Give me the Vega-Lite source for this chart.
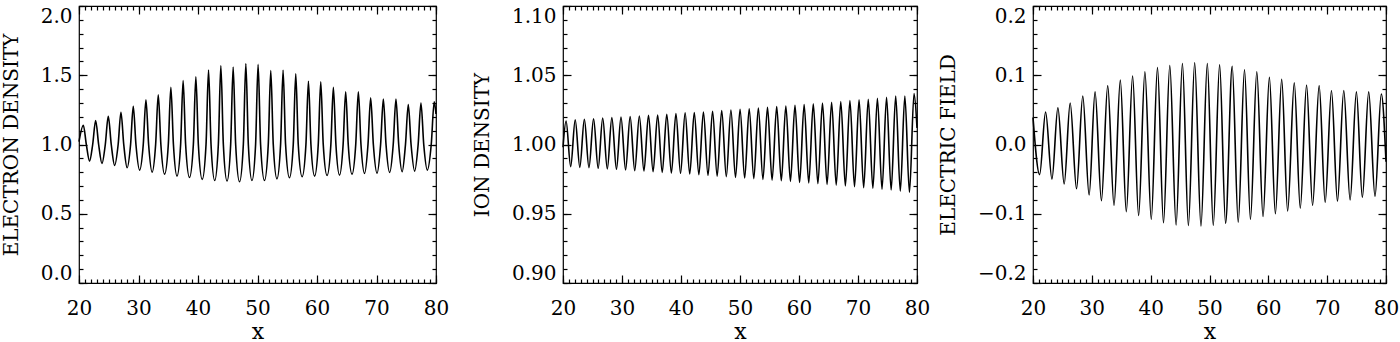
{
  "$schema": "https://vega.github.io/schema/vega-lite/v6.json",
  "padding": {"left": 0, "top": 4, "right": 0, "bottom": 0},
  "background": "white",
  "config": {
    "view": {"stroke": "black", "strokeWidth": 1.2},
    "axis": {"domain": false, "grid": false, "tickColor": "black", "tickWidth": 1.2, "labelColor": "black", "titleColor": "black", "labelFont": "DejaVu Serif", "titleFont": "DejaVu Serif", "labelFontSize": 20, "titleFontSize": 20, "titleFontWeight": "normal"},
    "line": {"color": "black", "strokeWidth": 1.6, "interpolate": "monotone"}
  },
  "datasets": {
    "ne": [
      {"x":20,"y":1.02},{"x":20.73,"y":1.139},{"x":21.23,"y":1.0},{"x":21.77,"y":0.88},{"x":22.3,"y":1.0},{"x":22.8,"y":1.173},{"x":23.3,"y":1.0},{"x":23.86,"y":0.863},{"x":24.42,"y":1.0},{"x":24.92,"y":1.204},{"x":25.42,"y":1.0},{"x":25.99,"y":0.849},{"x":26.58,"y":1.0},{"x":27.05,"y":1.233},{"x":27.52,"y":1.0},{"x":28.09,"y":0.832},{"x":28.67,"y":1.0},{"x":29.12,"y":1.276},{"x":29.57,"y":1.0},{"x":30.19,"y":0.815},{"x":30.8,"y":1.0},{"x":31.25,"y":1.322},{"x":31.7,"y":1.0},{"x":32.29,"y":0.8},{"x":32.88,"y":1.0},{"x":33.32,"y":1.358},{"x":33.76,"y":1.0},{"x":34.38,"y":0.786},{"x":35.01,"y":1.0},{"x":35.44,"y":1.413},{"x":35.87,"y":1.0},{"x":36.47,"y":0.772},{"x":37.08,"y":1.0},{"x":37.5,"y":1.462},{"x":37.92,"y":1.0},{"x":38.57,"y":0.762},{"x":39.22,"y":1.0},{"x":39.64,"y":1.488},{"x":40.06,"y":1.0},{"x":40.71,"y":0.748},{"x":41.35,"y":1.0},{"x":41.77,"y":1.538},{"x":42.19,"y":1.0},{"x":42.81,"y":0.74},{"x":43.42,"y":1.0},{"x":43.84,"y":1.57},{"x":44.26,"y":1.0},{"x":44.88,"y":0.736},{"x":45.49,"y":1.0},{"x":45.91,"y":1.56},{"x":46.33,"y":1.0},{"x":46.98,"y":0.731},{"x":47.62,"y":1.0},{"x":48.04,"y":1.584},{"x":48.46,"y":1.0},{"x":49.07,"y":0.74},{"x":49.68,"y":1.0},{"x":50.1,"y":1.579},{"x":50.52,"y":1.0},{"x":51.17,"y":0.74},{"x":51.81,"y":1.0},{"x":52.23,"y":1.534},{"x":52.65,"y":1.0},{"x":53.27,"y":0.752},{"x":53.88,"y":1.0},{"x":54.3,"y":1.536},{"x":54.72,"y":1.0},{"x":55.37,"y":0.76},{"x":56.01,"y":1.0},{"x":56.43,"y":1.51},{"x":56.85,"y":1.0},{"x":57.5,"y":0.767},{"x":58.14,"y":1.0},{"x":58.56,"y":1.457},{"x":58.98,"y":1.0},{"x":59.6,"y":0.772},{"x":60.21,"y":1.0},{"x":60.63,"y":1.452},{"x":61.05,"y":1.0},{"x":61.69,"y":0.776},{"x":62.33,"y":1.0},{"x":62.75,"y":1.413},{"x":63.18,"y":1.0},{"x":63.79,"y":0.779},{"x":64.39,"y":1.0},{"x":64.82,"y":1.38},{"x":65.25,"y":1.0},{"x":65.89,"y":0.786},{"x":66.51,"y":1.0},{"x":66.95,"y":1.38},{"x":67.39,"y":1.0},{"x":67.99,"y":0.791},{"x":68.57,"y":1.0},{"x":69.02,"y":1.337},{"x":69.47,"y":1.0},{"x":70.09,"y":0.793},{"x":70.69,"y":1.0},{"x":71.15,"y":1.329},{"x":71.6,"y":1.0},{"x":72.21,"y":0.798},{"x":72.81,"y":1.0},{"x":73.27,"y":1.329},{"x":73.73,"y":1.0},{"x":74.31,"y":0.803},{"x":74.87,"y":1.0},{"x":75.34,"y":1.288},{"x":75.81,"y":1.0},{"x":76.41,"y":0.808},{"x":77.0,"y":1.0},{"x":77.47,"y":1.3},{"x":77.94,"y":1.0},{"x":78.54,"y":0.815},{"x":79.2,"y":1.0},{"x":79.7,"y":1.308},{"x":80,"y":1.22}
    ],
    "ni": [
      {"x":20,"y":0.998},
      {"x":20.52,"y":1.017},{"x":21.3,"y":0.984},{"x":22.07,"y":1.0179},{"x":22.85,"y":0.9835},{"x":23.62,"y":1.0182},{"x":24.4,"y":0.9833},{"x":25.18,"y":1.0186},{"x":25.96,"y":0.9828},{"x":26.73,"y":1.0191},{"x":27.51,"y":0.9823},{"x":28.28,"y":1.0194},{"x":29.06,"y":0.9821},{"x":29.83,"y":1.0199},{"x":30.61,"y":0.9816},{"x":31.38,"y":1.0201},{"x":32.16,"y":0.9811},{"x":32.94,"y":1.0206},{"x":33.72,"y":0.9809},{"x":34.49,"y":1.0211},{"x":35.27,"y":0.9804},{"x":36.04,"y":1.0213},{"x":36.82,"y":0.9799},{"x":37.59,"y":1.0218},{"x":38.37,"y":0.9794},{"x":39.14,"y":1.0223},{"x":39.92,"y":0.9792},{"x":40.7,"y":1.0228},{"x":41.48,"y":0.9787},{"x":42.25,"y":1.023},{"x":43.03,"y":0.9782},{"x":43.8,"y":1.0235},{"x":44.58,"y":0.9777},{"x":45.35,"y":1.024},{"x":46.13,"y":0.9772},{"x":46.9,"y":1.0245},{"x":47.68,"y":0.9768},{"x":48.46,"y":1.0249},{"x":49.24,"y":0.9763},{"x":50.01,"y":1.0254},{"x":50.79,"y":0.9758},{"x":51.56,"y":1.0257},{"x":52.34,"y":0.9753},{"x":53.11,"y":1.0264},{"x":53.89,"y":0.9748},{"x":54.66,"y":1.0269},{"x":55.44,"y":0.9743},{"x":56.22,"y":1.0274},{"x":57.0,"y":0.9738},{"x":57.77,"y":1.0278},{"x":58.55,"y":0.9734},{"x":59.32,"y":1.0283},{"x":60.1,"y":0.9726},{"x":60.87,"y":1.0288},{"x":61.65,"y":0.9722},{"x":62.42,"y":1.0293},{"x":63.2,"y":0.9717},{"x":63.98,"y":1.03},{"x":64.76,"y":0.9712},{"x":65.53,"y":1.0305},{"x":66.31,"y":0.9707},{"x":67.08,"y":1.031},{"x":67.86,"y":0.97},{"x":68.63,"y":1.0317},{"x":69.41,"y":0.9695},{"x":70.18,"y":1.0322},{"x":70.96,"y":0.9688},{"x":71.74,"y":1.0327},{"x":72.52,"y":0.9683},{"x":73.29,"y":1.0334},{"x":74.07,"y":0.9676},{"x":74.84,"y":1.0341},{"x":75.62,"y":0.9671},{"x":76.39,"y":1.0349},{"x":77.17,"y":0.9663},{"x":77.94,"y":1.0349},{"x":78.72,"y":0.9654},{"x":79.5,"y":1.0368},
      {"x":80,"y":1.012}
    ],
    "ef": [
      {"x":20,"y":0.039},{"x":21.13,"y":-0.0435},{"x":22.14,"y":0.047},{"x":23.22,"y":-0.05},{"x":24.23,"y":0.053},{"x":25.3,"y":-0.057},{"x":26.32,"y":0.06},{"x":27.4,"y":-0.064},{"x":28.46,"y":0.07},{"x":29.54,"y":-0.073},{"x":30.55,"y":0.076},{"x":31.63,"y":-0.081},{"x":32.7,"y":0.085},{"x":33.77,"y":-0.088},{"x":34.84,"y":0.093},{"x":35.86,"y":-0.097},{"x":36.93,"y":0.099},{"x":37.95,"y":-0.1026},{"x":39.02,"y":0.105},{"x":40.1,"y":-0.108},{"x":41.16,"y":0.111},{"x":42.18,"y":-0.113},{"x":43.25,"y":0.114},{"x":44.32,"y":-0.116},{"x":45.4,"y":0.117},{"x":46.41,"y":-0.117},{"x":47.48,"y":0.118},{"x":48.55,"y":-0.1176},{"x":49.63,"y":0.117},{"x":50.64,"y":-0.1166},{"x":51.72,"y":0.115},{"x":52.73,"y":-0.1137},{"x":53.86,"y":0.113},{"x":54.88,"y":-0.112},{"x":55.95,"y":0.108},{"x":56.96,"y":-0.108},{"x":58.04,"y":0.105},{"x":59.1,"y":-0.104},{"x":60.18,"y":0.097},{"x":61.2,"y":-0.1},{"x":62.27,"y":0.094},{"x":63.28,"y":-0.096},{"x":64.41,"y":0.089},{"x":65.43,"y":-0.092},{"x":66.5,"y":0.086},{"x":67.52,"y":-0.088},{"x":68.64,"y":0.085},{"x":69.66,"y":-0.0837},{"x":70.73,"y":0.078},{"x":71.75,"y":-0.082},{"x":72.82,"y":0.078},{"x":73.9,"y":-0.08},{"x":74.97,"y":0.076},{"x":75.98,"y":-0.0764},{"x":77.06,"y":0.076},{"x":78.13,"y":-0.075},{"x":79.2,"y":0.073},{"x":80,"y":-0.025}
    ]
  },
  "spacing": 6,
  "hconcat": [
    {
      "spacing": 21,
      "hconcat": [
        {
          "width": 357, "height": 277,
          "data": {"name": "ne"},
          "resolve": {"axis": {"x": "independent", "y": "independent"}},
          "layer": [
            {"mark": {"type": "line"},
             "encoding": {
               "x": {"field": "x", "type": "quantitative", "scale": {"domain": [20, 80], "nice": false, "zero": false},
                     "axis": {"orient": "bottom", "values": [20,30,40,50,60,70,80], "format": "d", "tickSize": -8, "labelPadding": 23, "labelFlush": false, "title": "x", "titleFontSize": 22, "titlePadding": 3}},
               "y": {"field": "y", "type": "quantitative", "scale": {"domain": [0, 2], "nice": false, "zero": false},
                     "axis": {"orient": "left", "values": [0,0.5,1,1.5,2], "format": ".1f", "tickSize": -8, "labelPadding": 15, "labelFlush": true, "title": "ELECTRON DENSITY", "titlePadding": 19}}}},
            {"mark": {"type": "line", "opacity": 0},
             "encoding": {
               "x": {"field": "x", "type": "quantitative", "scale": {"domain": [20, 80], "nice": false, "zero": false},
                     "axis": {"orient": "bottom", "values": [20,21,22,23,24,25,26,27,28,29,30,31,32,33,34,35,36,37,38,39,40,41,42,43,44,45,46,47,48,49,50,51,52,53,54,55,56,57,58,59,60,61,62,63,64,65,66,67,68,69,70,71,72,73,74,75,76,77,78,79,80], "tickSize": -4, "labels": false, "title": null, "minExtent": 0}},
               "y": {"field": "y", "type": "quantitative", "scale": {"domain": [0, 2], "nice": false, "zero": false},
                     "axis": {"orient": "left", "values": [0,0.1,0.2,0.3,0.4,0.5,0.6,0.7,0.8,0.9,1,1.1,1.2,1.3,1.4,1.5,1.6,1.7,1.8,1.9,2], "tickSize": -4, "labels": false, "title": null, "minExtent": 0}}}},
            {"mark": {"type": "line", "opacity": 0},
             "encoding": {
               "x": {"field": "x", "type": "quantitative", "scale": {"domain": [20, 80], "nice": false, "zero": false},
                     "axis": {"orient": "top", "values": [20,30,40,50,60,70,80], "tickSize": -8, "labels": false, "title": null, "minExtent": 0}},
               "y": {"field": "y", "type": "quantitative", "scale": {"domain": [0, 2], "nice": false, "zero": false},
                     "axis": {"orient": "right", "values": [0,0.5,1,1.5,2], "tickSize": -8, "labels": false, "title": null, "minExtent": 0}}}},
            {"mark": {"type": "line", "opacity": 0},
             "encoding": {
               "x": {"field": "x", "type": "quantitative", "scale": {"domain": [20, 80], "nice": false, "zero": false},
                     "axis": {"orient": "top", "values": [20,21,22,23,24,25,26,27,28,29,30,31,32,33,34,35,36,37,38,39,40,41,42,43,44,45,46,47,48,49,50,51,52,53,54,55,56,57,58,59,60,61,62,63,64,65,66,67,68,69,70,71,72,73,74,75,76,77,78,79,80], "tickSize": -4, "labels": false, "title": null, "minExtent": 0}},
               "y": {"field": "y", "type": "quantitative", "scale": {"domain": [0, 2], "nice": false, "zero": false},
                     "axis": {"orient": "right", "values": [0,0.1,0.2,0.3,0.4,0.5,0.6,0.7,0.8,0.9,1,1.1,1.2,1.3,1.4,1.5,1.6,1.7,1.8,1.9,2], "tickSize": -4, "labels": false, "title": null, "minExtent": 0}}}}
          ]
        },
        {
          "width": 354, "height": 277,
          "data": {"name": "ni"},
          "resolve": {"axis": {"x": "independent", "y": "independent"}},
          "layer": [
            {"mark": {"type": "line"},
             "encoding": {
               "x": {"field": "x", "type": "quantitative", "scale": {"domain": [20, 80], "nice": false, "zero": false},
                     "axis": {"orient": "bottom", "values": [20,30,40,50,60,70,80], "format": "d", "tickSize": -8, "labelPadding": 23, "labelFlush": false, "title": "x", "titleFontSize": 22, "titlePadding": 3}},
               "y": {"field": "y", "type": "quantitative", "scale": {"domain": [0.9, 1.1], "nice": false, "zero": false},
                     "axis": {"orient": "left", "values": [0.9,0.95,1,1.05,1.1], "format": ".2f", "tickSize": -8, "labelPadding": 15, "labelFlush": true, "title": "ION DENSITY", "titlePadding": 19}}}},
            {"mark": {"type": "line", "opacity": 0},
             "encoding": {
               "x": {"field": "x", "type": "quantitative", "scale": {"domain": [20, 80], "nice": false, "zero": false},
                     "axis": {"orient": "bottom", "values": [20,21,22,23,24,25,26,27,28,29,30,31,32,33,34,35,36,37,38,39,40,41,42,43,44,45,46,47,48,49,50,51,52,53,54,55,56,57,58,59,60,61,62,63,64,65,66,67,68,69,70,71,72,73,74,75,76,77,78,79,80], "tickSize": -4, "labels": false, "title": null, "minExtent": 0}},
               "y": {"field": "y", "type": "quantitative", "scale": {"domain": [0.9, 1.1], "nice": false, "zero": false},
                     "axis": {"orient": "left", "values": [0.9,0.91,0.92,0.93,0.94,0.95,0.96,0.97,0.98,0.99,1,1.01,1.02,1.03,1.04,1.05,1.06,1.07,1.08,1.09,1.1], "tickSize": -4, "labels": false, "title": null, "minExtent": 0}}}},
            {"mark": {"type": "line", "opacity": 0},
             "encoding": {
               "x": {"field": "x", "type": "quantitative", "scale": {"domain": [20, 80], "nice": false, "zero": false},
                     "axis": {"orient": "top", "values": [20,30,40,50,60,70,80], "tickSize": -8, "labels": false, "title": null, "minExtent": 0}},
               "y": {"field": "y", "type": "quantitative", "scale": {"domain": [0.9, 1.1], "nice": false, "zero": false},
                     "axis": {"orient": "right", "values": [0.9,0.95,1,1.05,1.1], "tickSize": -8, "labels": false, "title": null, "minExtent": 0}}}},
            {"mark": {"type": "line", "opacity": 0},
             "encoding": {
               "x": {"field": "x", "type": "quantitative", "scale": {"domain": [20, 80], "nice": false, "zero": false},
                     "axis": {"orient": "top", "values": [20,21,22,23,24,25,26,27,28,29,30,31,32,33,34,35,36,37,38,39,40,41,42,43,44,45,46,47,48,49,50,51,52,53,54,55,56,57,58,59,60,61,62,63,64,65,66,67,68,69,70,71,72,73,74,75,76,77,78,79,80], "tickSize": -4, "labels": false, "title": null, "minExtent": 0}},
               "y": {"field": "y", "type": "quantitative", "scale": {"domain": [0.9, 1.1], "nice": false, "zero": false},
                     "axis": {"orient": "right", "values": [0.9,0.91,0.92,0.93,0.94,0.95,0.96,0.97,0.98,0.99,1,1.01,1.02,1.03,1.04,1.05,1.06,1.07,1.08,1.09,1.1], "tickSize": -4, "labels": false, "title": null, "minExtent": 0}}}}
          ]
        }
      ]
    },
    {
      "width": 353, "height": 277,
      "data": {"name": "ef"},
      "resolve": {"axis": {"x": "independent", "y": "independent"}},
      "layer": [
        {"mark": {"type": "line"},
         "encoding": {
           "x": {"field": "x", "type": "quantitative", "scale": {"domain": [20, 80], "nice": false, "zero": false},
                 "axis": {"orient": "bottom", "values": [20,30,40,50,60,70,80], "format": "d", "tickSize": -8, "labelPadding": 23, "labelFlush": false, "title": "x", "titleFontSize": 22, "titlePadding": 3}},
           "y": {"field": "y", "type": "quantitative", "scale": {"domain": [-0.2, 0.2], "nice": false, "zero": false},
                 "axis": {"orient": "left", "values": [-0.2,-0.1,0,0.1,0.2], "format": ".1f", "tickSize": -8, "labelPadding": 15, "labelFlush": true, "title": "ELECTRIC FIELD", "titlePadding": 19}}}},
        {"mark": {"type": "line", "opacity": 0},
         "encoding": {
           "x": {"field": "x", "type": "quantitative", "scale": {"domain": [20, 80], "nice": false, "zero": false},
                 "axis": {"orient": "bottom", "values": [20,21,22,23,24,25,26,27,28,29,30,31,32,33,34,35,36,37,38,39,40,41,42,43,44,45,46,47,48,49,50,51,52,53,54,55,56,57,58,59,60,61,62,63,64,65,66,67,68,69,70,71,72,73,74,75,76,77,78,79,80], "tickSize": -4, "labels": false, "title": null, "minExtent": 0}},
           "y": {"field": "y", "type": "quantitative", "scale": {"domain": [-0.2, 0.2], "nice": false, "zero": false},
                 "axis": {"orient": "left", "values": [-0.2,-0.18,-0.16,-0.14,-0.12,-0.1,-0.08,-0.06,-0.04,-0.02,0,0.02,0.04,0.06,0.08,0.1,0.12,0.14,0.16,0.18,0.2], "tickSize": -4, "labels": false, "title": null, "minExtent": 0}}}},
        {"mark": {"type": "line", "opacity": 0},
         "encoding": {
           "x": {"field": "x", "type": "quantitative", "scale": {"domain": [20, 80], "nice": false, "zero": false},
                 "axis": {"orient": "top", "values": [20,30,40,50,60,70,80], "tickSize": -8, "labels": false, "title": null, "minExtent": 0}},
           "y": {"field": "y", "type": "quantitative", "scale": {"domain": [-0.2, 0.2], "nice": false, "zero": false},
                 "axis": {"orient": "right", "values": [-0.2,-0.1,0,0.1,0.2], "tickSize": -8, "labels": false, "title": null, "minExtent": 0}}}},
        {"mark": {"type": "line", "opacity": 0},
         "encoding": {
           "x": {"field": "x", "type": "quantitative", "scale": {"domain": [20, 80], "nice": false, "zero": false},
                 "axis": {"orient": "top", "values": [20,21,22,23,24,25,26,27,28,29,30,31,32,33,34,35,36,37,38,39,40,41,42,43,44,45,46,47,48,49,50,51,52,53,54,55,56,57,58,59,60,61,62,63,64,65,66,67,68,69,70,71,72,73,74,75,76,77,78,79,80], "tickSize": -4, "labels": false, "title": null, "minExtent": 0}},
           "y": {"field": "y", "type": "quantitative", "scale": {"domain": [-0.2, 0.2], "nice": false, "zero": false},
                 "axis": {"orient": "right", "values": [-0.2,-0.18,-0.16,-0.14,-0.12,-0.1,-0.08,-0.06,-0.04,-0.02,0,0.02,0.04,0.06,0.08,0.1,0.12,0.14,0.16,0.18,0.2], "tickSize": -4, "labels": false, "title": null, "minExtent": 0}}}}
      ]
    }
  ]
}
